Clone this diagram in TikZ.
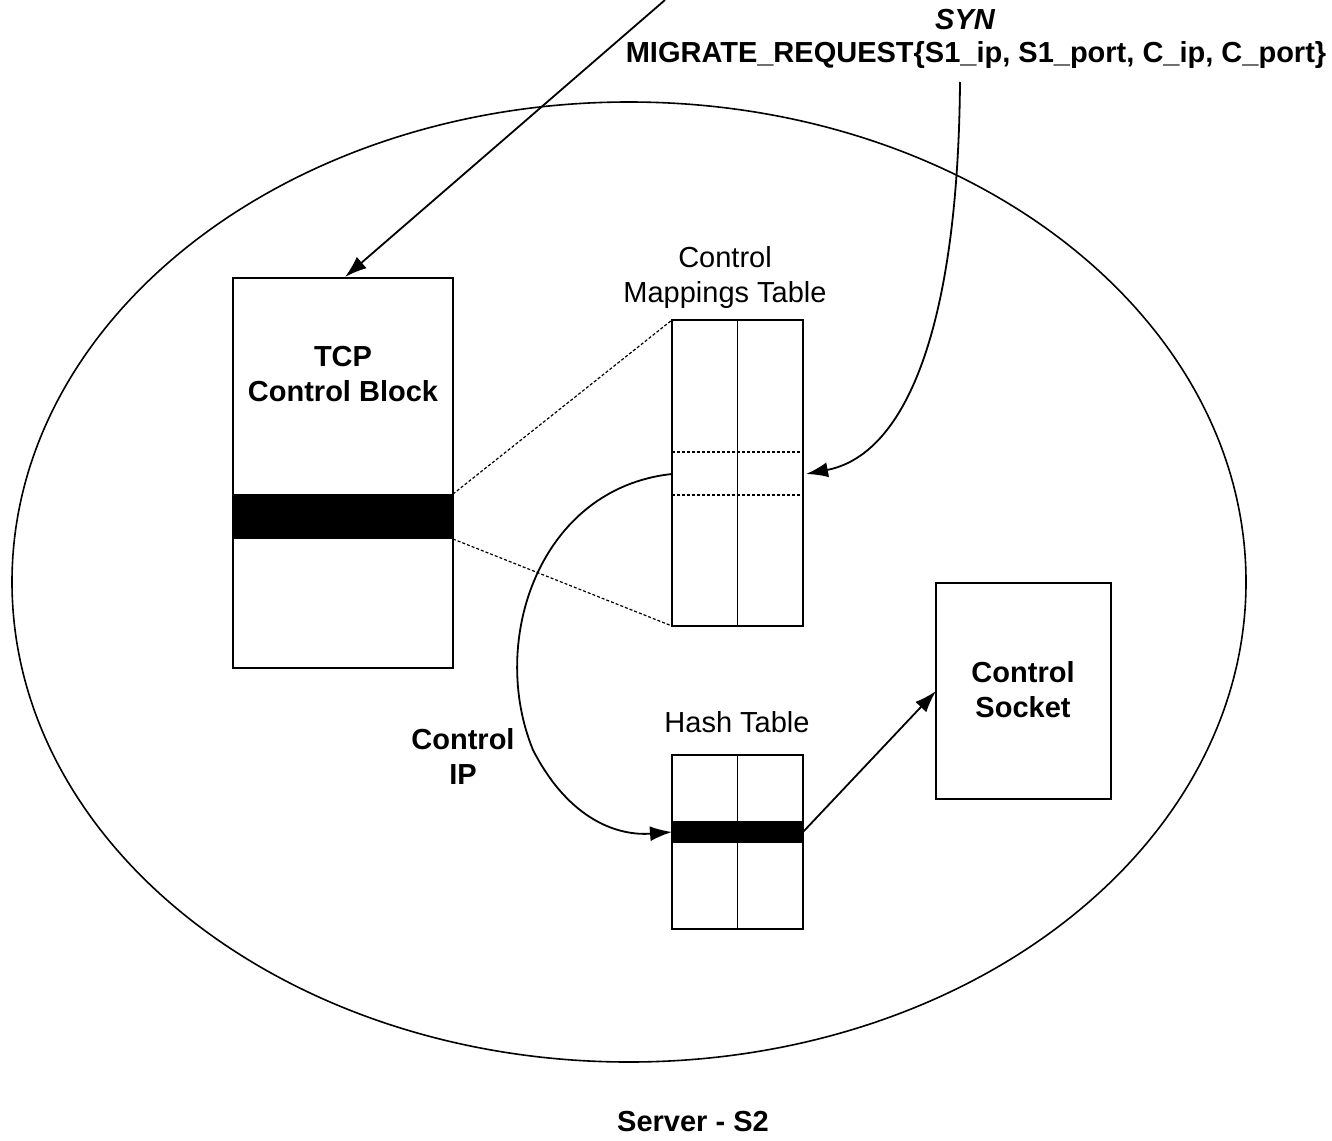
\documentclass[tikz,border=0pt]{standalone}
\usepackage{fontspec}
\setmainfont{Liberation Sans}
\usetikzlibrary{arrows.meta}
\begin{document}
\begin{tikzpicture}[x=0.5pt,y=-0.5pt,
  every node/.style={inner sep=0pt,outer sep=0pt},
  box/.style={draw,line width=0.9pt,anchor=north west},
  bar/.style={fill=black,anchor=north west},
  lbl/.style={font=\fontsize{14.5}{17.5}\selectfont\bfseries,align=center},
  tlbl/.style={font=\fontsize{14.5}{17.5}\selectfont,align=center},
  arr/.style={line width=0.9pt,-{Latex[length=11pt,width=7.5pt]}},
  zoomln/.style={line width=0.6pt,dash pattern=on 1.5pt off 1pt},
]
\useasboundingbox (0,0) rectangle (1332,1140);
% server ellipse
\draw[line width=0.8pt] (629,582) ellipse [x radius=308.5pt, y radius=240pt];
% TCP control block
\node[box,minimum width=110pt,minimum height=195pt] (tcp) at (233,278) {};
\node[bar,minimum width=110pt,minimum height=22.5pt] (tcpbar) at (233,494) {};
\node[lbl] (tcptxt) at (343,374) {TCP\\Control Block};
% control mappings table
\node[box,minimum width=65.5pt,minimum height=153pt] (cmt) at (672,320) {};
\draw[line width=0.9pt] (cmt.north) -- (cmt.south);
\coordinate (d1l) at (672,452); \coordinate (d1r) at (803,452);
\coordinate (d2l) at (672,495); \coordinate (d2r) at (803,495);
\draw[zoomln] (d1l) -- (d1r);
\draw[zoomln] (d2l) -- (d2r);
\node[tlbl] (cmttxt) at (725,277) {Control\\Mappings Table};
% zoom lines
\draw[zoomln] (tcpbar.north east) -- (cmt.north west);
\draw[zoomln] (tcpbar.south east) -- (cmt.south west);
% hash table
\node[box,minimum width=65.5pt,minimum height=87pt] (ht) at (672,755) {};
\node[bar,minimum width=65.5pt,minimum height=11pt] (htbar) at (672,821) {};
\draw[line width=0.9pt] (ht.north) -- (ht.south);
\node[tlbl] (httxt) at (737,722) {Hash Table};
% control socket
\node[box,minimum width=87.5pt,minimum height=108pt] (cs) at (936,583) {};
\node[lbl] (cstxt) at (1023,690) {Control\\Socket};
% control IP label
\node[lbl] (ciptxt) at (463,756) {Control\\IP};
% top labels
\node[lbl,font=\fontsize{14.5}{17.5}\selectfont\bfseries\itshape] (syn) at (965,20) {SYN};
\node[lbl] (mig) at (976,55) {MIGRATE\_REQUEST\{S1\_ip, S1\_port, C\_ip, C\_port\}};
\node[lbl] (srv) at (693,1121) {Server - S2};
% arrows
\coordinate (in) at (665,0);
\draw[arr] (in) -- (345,277);
\coordinate (migs) at (960,82);
\draw[arr] (migs) .. controls (958,330) and (905,455) .. (806,474);
\coordinate (cmtl) at (672,474);
\draw[arr] (cmtl) .. controls (540,488) and (488,640) .. (533,750) .. controls (570,822) and (620,836) .. (htbar.west);
\draw[arr] (htbar.east) -- (cs.west);
\end{tikzpicture}
\end{document}
